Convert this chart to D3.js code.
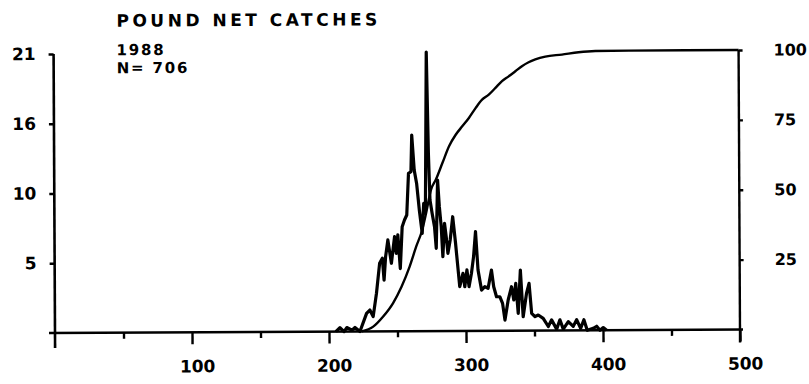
<!DOCTYPE html>
<html><head><meta charset="utf-8">
<script src="https://cdn.jsdelivr.net/npm/d3@7/dist/d3.min.js"></script>
<style>
html,body{margin:0;padding:0;background:#fff;}
svg{display:block;}
text{font-family:"DejaVu Sans",sans-serif;font-weight:bold;fill:#000;}
</style></head><body>
<svg id="chart" width="809" height="384"></svg>
<script>
// Pound net catches, 1988: daily catch (left axis) and cumulative percent (right axis)
const titleText = "POUND NET CATCHES";
const yearText = "1988";
const sampleText = "N= 706";

const catchDays = [205,208,211,213,216.8,219,222.6,227.5,229.9,232.3,234.8,237.2,239.2,240.4,241.6,243.3,245.8,248.2,249.4,250.6,252.3,253.8,255.5,257.2,258.6,260.4,261.1,262.8,264.5,266.4,268.4,269.6,270.8,272.0,273.2,274.2,275.7,277.4,278.6,279.8,281.0,282.3,283.4,284.7,285.9,287.1,288.8,290.7,292.7,295.6,298.0,299.3,300.9,302.4,304.2,305.8,307.3,309.0,311.5,313.9,316.3,318.8,320.4,322.4,324.8,326.8,328.5,330.9,333.4,335.0,336.5,338.2,339.9,341.8,344.3,346.2,348.0,350.4,352.8,356.4,360.1,362.5,366.2,368.6,371.0,374.7,378.3,380.8,383.7,386.1,388.5,392.9,395.4,397.8,400.2,402.7];
const catchCounts = [0,0.3,0,0.3,0.1,0.3,0,1.36,1.61,1.11,2.87,5.12,5.5,3.86,5.62,6.88,5.12,7.12,5.87,7.25,4.72,7.87,8.37,8.75,11.88,12.0,14.76,12.12,11.12,9.1,7.36,9.62,8.87,21,13.38,9.87,8.87,7.86,6.23,11.37,9.36,7.86,5.6,8.11,7.1,5.85,6.85,8.6,6.6,3.33,4.34,3.33,4.59,3.33,4.34,5.59,7.47,4.59,3.07,3.32,3.2,4.57,3.31,2.56,2.56,2.06,0.8,2.31,3.31,2.31,3.56,1.3,4.56,1.05,2.8,3.56,1.3,1.05,1.17,0.92,0.3,0.8,0.1,0.8,0.1,0.66,0.3,0.8,0.15,0.8,0,0.15,0.3,0,0.2,0];

const cumDays = [223.9,232.3,239.6,246.9,253.1,259.1,264.0,268.4,271.3,275.0,278.6,283.4,288.3,293.2,298.0,302.9,307.8,312.6,317.5,322.4,327.2,332.1,337.0,341.8,346.7,351.6,358.9,371.0,383.2,395.4,420,500];
const cumPercent = [0,1.7,5.3,10.1,15.9,23.1,30.3,36.2,42.2,50.6,54.2,60.1,66.1,70.2,73.2,76.2,79.7,82.7,84.5,86.9,89.3,91.0,92.8,94.6,96.0,97.0,98.0,98.7,99.5,99.9,100,100];

const xMajorTicks = [100,200,300,400,500];
const xMinorTicks = [50,150,250,350,450];
const leftTickValues = [5.25,10.5,15.75,21];
const leftTickLabels = ["5","10","16","21"];
const rightTickValues = [25,50,75,100];

const svg = d3.select("#chart");
// the whole plate sits slightly askew
const g = svg.append("g").attr("transform","rotate(-0.29 55 333)");

const x = d3.scaleLinear().domain([0,500]).range([55,740]);
const yL = d3.scaleLinear().domain([0,21]).range([333,54]);
const yR = d3.scaleLinear().domain([0,100]).range([333,53.5]);

const ink = "#000";

// axis frames
g.append("line").attr("x1",x(0)).attr("x2",x(0)).attr("y1",yL(21)).attr("y2",348)
  .attr("stroke",ink).attr("stroke-width",2.6);
g.append("line").attr("x1",49).attr("x2",743).attr("y1",yL(0)).attr("y2",yL(0))
  .attr("stroke",ink).attr("stroke-width",2.6);
g.append("line").attr("x1",x(500)).attr("x2",x(500)).attr("y1",yR(100)).attr("y2",346)
  .attr("stroke",ink).attr("stroke-width",2.4);

// bottom axis: minor and major ticks
const xMinor = d3.axisBottom(x).tickValues(xMinorTicks).tickSize(6).tickFormat("").tickSizeOuter(0);
const xMajor = d3.axisBottom(x).tickValues(xMajorTicks).tickSize(12).tickPadding(16).tickSizeOuter(0);
[xMinor, xMajor].forEach(ax => {
  const a = g.append("g").attr("transform",`translate(0,${yL(0)})`).call(ax);
  a.select(".domain").remove();
  a.selectAll(".tick line").attr("stroke",ink).attr("stroke-width",2.4);
});
g.selectAll("g.tick text").filter(function(){return this.textContent!=="";})
  .attr("font-size",17).attr("font-family","DejaVu Sans").attr("font-weight","bold")
  .attr("fill",ink).attr("dx",5);

// left axis
const yLeftAxis = d3.axisLeft(yL).tickValues(leftTickValues)
  .tickFormat((d,i)=>leftTickLabels[i]).tickSize(5).tickPadding(13).tickSizeOuter(0);
const la = g.append("g").attr("transform",`translate(${x(0)},0)`).call(yLeftAxis);
la.select(".domain").remove();
la.selectAll(".tick line").attr("stroke",ink).attr("stroke-width",2.4);
la.selectAll(".tick text").attr("font-size",17).attr("font-family","DejaVu Sans")
  .attr("font-weight","bold").attr("fill",ink);

// right axis
const yRightAxis = d3.axisRight(yR).tickValues(rightTickValues).tickSize(4).tickPadding(31).tickSizeOuter(0);
const ra = g.append("g").attr("transform",`translate(${x(500)},0)`).call(yRightAxis);
ra.select(".domain").remove();
ra.selectAll(".tick line").attr("stroke",ink).attr("stroke-width",2.4);
ra.selectAll(".tick text").attr("font-size",16).attr("font-family","DejaVu Sans")
  .attr("font-weight","bold").attr("fill",ink);

// daily catch line
const catchLine = d3.line().x((d,i)=>x(catchDays[i])).y(d=>yL(d)).curve(d3.curveLinear);
g.append("path").datum(catchCounts).attr("d",catchLine)
  .attr("fill","none").attr("stroke",ink).attr("stroke-width",3.2)
  .attr("stroke-linejoin","round");

// cumulative percent curve
const cumLine = d3.line().x((d,i)=>x(cumDays[i])).y(d=>yR(d)).curve(d3.curveMonotoneX);
g.append("path").datum(cumPercent).attr("d",cumLine)
  .attr("fill","none").attr("stroke",ink).attr("stroke-width",2.4)
  .attr("stroke-linejoin","round");

// headings
g.append("text").attr("x",118).attr("y",27).attr("font-size",17)
  .attr("letter-spacing",3.5).text(titleText);
g.append("text").attr("x",118).attr("y",55.5).attr("font-size",15)
  .attr("letter-spacing",1.8).text(yearText);
g.append("text").attr("x",118).attr("y",73.5).attr("font-size",15)
  .attr("letter-spacing",1.8).text(sampleText);
</script>
</body></html>
